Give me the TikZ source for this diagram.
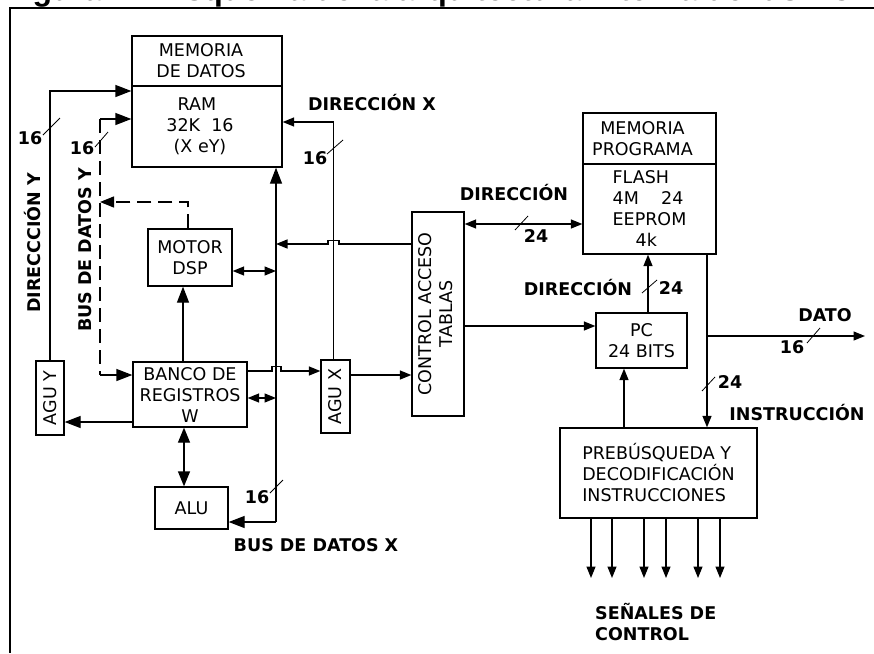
\documentclass[tikz,border=0pt]{standalone}
\usepackage{fontspec}
\setmainfont{DejaVu Sans}
\newfontfamily\titlefont{Liberation Sans}
\usetikzlibrary{arrows.meta}
\begin{document}
\begin{tikzpicture}[x=1pt,y=-1pt,
  box/.style={draw, line width=1.3pt, inner sep=0pt, font=\fontsize{17.5}{21}\selectfont, align=center},
  lbl/.style={font=\bfseries\fontsize{17.5}{21}\selectfont, inner sep=0pt},
  wire/.style={line width=1.3pt},
  arr/.style={wire,-{Triangle[length=11.5pt,width=9pt]}},
  barr/.style={wire,-{Triangle[length=16pt,width=12pt]}},
  darr/.style={wire,{Triangle[length=11.5pt,width=9pt]}-{Triangle[length=11.5pt,width=9pt]}},
  bdarr/.style={wire,{Triangle[length=15pt,width=12pt]}-{Triangle[length=15pt,width=12pt]}},
  bustick/.style={line width=0.8pt},
  dsh/.style={dash pattern=on 14pt off 7pt}
]
\useasboundingbox (0,0) rectangle (874,653);
\fill[white] (0,0) rectangle (874,653);

% clipped title
\begin{scope}
\clip (0,0) rectangle (874,8);
\node[anchor=base west, inner sep=0pt, font=\titlefont\bfseries\fontsize{32}{38}\selectfont] (title) at (4,1) {Figura 2.1 Esquema de la arquitectura interna del dsPIC};
\end{scope}

% frame
\draw[line width=2.3pt] (10,8) -- (10,653);
\draw[line width=1.8pt] (9,8) -- (874,8);

% boxes
\node[box, minimum width=150pt, minimum height=50pt] (memtop) at (207,61) {\hspace*{-12pt}MEMORIA\\\hspace*{-12pt}DE DATOS};
\node[box, minimum width=150pt, minimum height=81pt] (rambody) at (207,126.5) {\hspace*{-20pt}RAM\\\hspace*{-14pt}32K\ \ 16\\\hspace*{-14pt}(X eY)};
\node[box, minimum width=84pt, minimum height=57pt] (motor) at (190,257.5) {MOTOR\\DSP};
\node[box, minimum width=114pt, minimum height=65pt] (banco) at (190,394.5) {BANCO DE\\REGISTROS\\W};
\node[box, minimum width=73pt, minimum height=42pt] (alu) at (191.5,508) {ALU};
\node[box, minimum width=28pt, minimum height=74pt] (aguy) at (50,398) {\rotatebox{90}{AGU Y}};
\node[box, minimum width=29pt, minimum height=73pt] (agux) at (335.5,396.5) {\rotatebox{90}{AGU X}};
\node[box, minimum width=52pt, minimum height=204pt] (ctrl) at (438,314) {\rotatebox{90}{\begin{tabular}{@{}c@{}}CONTROL ACCESO\\TABLAS\end{tabular}}};
\node[box, minimum width=133pt, minimum height=51pt] (mptop) at (649.5,138.5) {\hspace*{-14pt}MEMORIA\\\hspace*{-14pt}PROGRAMA};
\node[box, minimum width=133pt, minimum height=90pt, align=left] (mpbody) at (649.5,209) {FLASH\\4M\ \ \ \ 24\\EEPROM\\\hspace*{23pt}4k};
\node[box, minimum width=91pt, minimum height=55pt] (pc) at (641.5,340.5) {PC\\24 BITS};
\node[box, minimum width=197pt, minimum height=90pt, align=left] (preb) at (658.5,473) {PREBÚSQUEDA Y\\DECODIFICACIÓN\\INSTRUCCIONES};

% coordinates
\coordinate (busYtop) at (100,119);
\coordinate (busYbot) at (100,375);
\coordinate (busXbot) at (276,522);
\coordinate (jdato) at (707,336);
\coordinate (datoend) at (865,336);

% Direccion Y
\draw[barr] (aguy.north) -- (aguy.north |- 0,91) -- (rambody.west |- 0,91);
% Bus de datos Y (dashed)
\draw[wire,dsh] (busYtop) -- (busYbot);
\draw[barr] (busYtop) -- (rambody.west |- busYtop);
\draw[barr] (busYbot) -- (banco.west |- busYbot);
\draw[wire,dsh,-{Triangle[length=14pt,width=11pt]}] ([xshift=-2pt]motor.north) -- ([xshift=-2pt]motor.north |- 0,202) -- (busYtop |- 0,202);
% Direccion X
\draw[arr] ([xshift=-2pt]agux.north) -- ([xshift=-2pt]agux.north |- 0,122) -- (rambody.east |- 0,122);
% Bus de datos X
\draw[barr] (busXbot) -- (busXbot |- rambody.south);
\draw[barr] (busXbot) -- (alu.east |- busXbot);
% control -> bus X (with jump)
\draw[arr] (ctrl.west |- 0,244) -- (339,244) -- (339,240.5) -- (328,240.5) -- (328,244) -- (busXbot |- 0,244);
% motor <-> bus X
\draw[darr] (motor.east |- 0,271) -- (busXbot |- 0,271);
% banco -> motor
\draw[barr] ([xshift=-7pt]banco.north) -- ([xshift=-7pt]motor.south);
% banco -> AGU Y
\draw[barr] (banco.west |- 0,422) -- (aguy.east |- 0,422);
% banco <-> bus X
\draw[darr] (banco.east |- 0,398) -- (busXbot |- 0,398);
% banco -> AGU X (with jump)
\draw[arr] (banco.east |- 0,371) -- (272,371) -- (272,366.5) -- (281,366.5) -- (281,371) -- (agux.west |- 0,371);
% banco <-> ALU
\draw[bdarr] ([xshift=-6pt]banco.south) -- ([xshift=-6pt]banco.south |- alu.north);
% AGU X -> control
\draw[arr] (agux.east |- 0,375) -- (ctrl.west |- 0,375);
% control <-> memoria programa
\draw[darr] (ctrl.east |- 0,224) -- (mpbody.west |- 0,224);
% control -> PC
\draw[arr] (ctrl.east |- 0,326) -- (pc.west |- 0,326);
% PC -> memoria programa
\draw[arr] (pc.north -| 648,0) -- (mpbody.south -| 648,0);
% memoria programa -> prebusqueda, dato
\draw[arr] (mpbody.south -| jdato) -- (preb.north -| jdato);
\draw[arr] (jdato) -- (datoend);
% prebusqueda -> PC
\draw[arr] (preb.north -| 624,0) -- (pc.south -| 624,0);
% control signals
\foreach \x [count=\i] in {591,612,644,666,698,720} {
  \coordinate (sig\i) at (\x,578);
  \draw[arr] (preb.south -| sig\i) -- (sig\i);
}

% bus ticks
\draw[bustick] (43,135) -- (60,118);
\draw[bustick] (95,147) -- (108,132);
\draw[bustick] (327,154) -- (343,140);
\draw[bustick] (515,230) -- (528,216);
\draw[bustick] (642,293) -- (657,280);
\draw[bustick] (807,343) -- (820,328);
\draw[bustick] (702,391) -- (715,377);
\draw[bustick] (270,493) -- (283,480);

% labels
\node[lbl] (l16a) at (30,138) {16};
\node[lbl] (l16b) at (82,148) {16};
\node[lbl] (l16c) at (315,158) {16};
\node[lbl] (l16d) at (257,497) {16};
\node[lbl] (l16e) at (792,347) {16};
\node[lbl] (l24a) at (536,236) {24};
\node[lbl] (l24b) at (671,288) {24};
\node[lbl] (l24c) at (730,382) {24};
\node[lbl] (ldirx) at (372,103) {DIRECCIÓN X};
\node[lbl] (ldir1) at (514,193) {DIRECCIÓN};
\node[lbl] (ldir2) at (578,288) {DIRECCIÓN};
\node[lbl] (ldato) at (825,315) {DATO};
\node[lbl] (linst) at (797,413) {INSTRUCCIÓN};
\node[lbl] (lbusx) at (316,545) {BUS DE DATOS X};
\node[lbl, align=left, anchor=north west] (lsen) at (595,603) {SEÑALES DE\\CONTROL};
\node[lbl, rotate=90] (ldiry) at (33,243) {DIRECCCIÓN Y};
\node[lbl, rotate=90] (lbusy) at (85,250) {BUS DE DATOS Y};
\end{tikzpicture}
\end{document}
